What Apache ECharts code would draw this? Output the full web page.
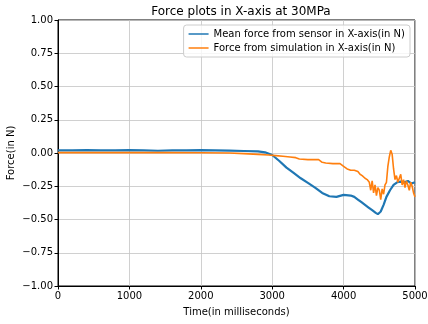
<!DOCTYPE html>
<html>
<head>
<meta charset="utf-8">
<script src="https://cdn.jsdelivr.net/npm/echarts@6/dist/echarts.min.js"></script>
<style>
  html, body { margin: 0; padding: 0; background: #fff; }
  #chart { width: 428px; height: 324px; }
</style>
</head>
<body>
<div id="chart"></div>
<script>
// values
const sensorTime = [0, 200, 400, 600, 800, 1000, 1200, 1400, 1600, 1800, 2000, 2200, 2400, 2600, 2800, 2900,
  3000, 3100, 3200, 3300, 3400, 3500, 3600, 3700, 3800, 3900, 4000, 4100, 4150, 4200, 4250, 4300, 4350,
  4400, 4450, 4480, 4520, 4560, 4600, 4650, 4700, 4750, 4800, 4850, 4900, 4950, 5000]
const sensorForce = [0.02, 0.02, 0.021, 0.02, 0.02, 0.021, 0.02, 0.017, 0.02, 0.02, 0.021, 0.02, 0.018, 0.015, 0.012, 0.005,
  -0.015, -0.06, -0.11, -0.15, -0.19, -0.225, -0.26, -0.3, -0.325, -0.33, -0.315, -0.32, -0.33, -0.35, -0.37, -0.39, -0.41,
  -0.43, -0.45, -0.46, -0.44, -0.39, -0.33, -0.28, -0.24, -0.22, -0.215, -0.22, -0.21, -0.23, -0.22]

const simTime = [0, 500, 1000, 1500, 2000, 2400, 2600, 2800, 2950, 3050, 3150, 3250, 3330, 3380, 3500, 3650, 3700,
  3750, 3850, 3950, 4000, 4050, 4100, 4150, 4200, 4230, 4260, 4300, 4330, 4360, 4380, 4400, 4420, 4440, 4460,
  4480, 4500, 4520, 4540, 4560, 4580, 4600, 4620, 4640, 4660, 4680, 4700, 4720, 4740, 4760, 4780, 4800, 4820,
  4840, 4860, 4880, 4900, 4920, 4940, 4960, 4980, 5000]
const simForce = [0.003, 0.003, 0.003, 0.003, 0.002, 0.0, -0.005, -0.01, -0.015, -0.02, -0.025, -0.03, -0.035, -0.045, -0.05, -0.05, -0.07,
  -0.075, -0.08, -0.08, -0.1, -0.12, -0.13, -0.13, -0.14, -0.16, -0.17, -0.19, -0.2, -0.22, -0.28, -0.21, -0.3, -0.24, -0.32,
  -0.26, -0.28, -0.35, -0.27, -0.31, -0.24, -0.22, -0.1, -0.03, 0.02, -0.01, -0.12, -0.2, -0.17, -0.22, -0.19, -0.16, -0.24,
  -0.2, -0.26, -0.21, -0.24, -0.28, -0.22, -0.25, -0.3, -0.33]

const seriesNames = ['Mean force from sensor in X-axis(in N)', 'Force from simulation in X-axis(in N)']

const zip = (xs, ys) => xs.map((x, i) => [x, ys[i]])
const font = 'DejaVu Sans'

const chart = echarts.init(document.getElementById('chart'), null, { renderer: 'canvas' })

chart.setOption({
  animation: false,
  backgroundColor: '#fff',
  color: ['#1f77b4', '#ff7f0e'],
  title: {
    text: 'Force plots in X-axis at 30MPa',
    left: 236,
    textAlign: 'center',
    top: 1,
    textStyle: { fontFamily: font, fontSize: 12, fontWeight: 'normal', color: '#000' },
  },
  grid: {
    left: 58, right: 13, top: 20, bottom: 38,
    outerBoundsMode: 'none',
    containLabel: false,
    show: true, borderColor: '#000', borderWidth: 1,
  },
  legend: {
    orient: 'vertical',
    right: 18,
    top: 25,
    data: seriesNames,
    icon: 'rect',
    itemWidth: 20,
    itemHeight: 1.5,
    itemGap: 4,
    padding: [4, 5, 4, 5],
    backgroundColor: 'rgba(255,255,255,0.8)',
    borderColor: '#ccc',
    borderWidth: 1,
    borderRadius: 3,
    textStyle: { fontFamily: font, fontSize: 10, color: '#000' },
  },
  xAxis: {
    type: 'value',
    min: 0, max: 5000, interval: 1000,
    name: 'Time(in milliseconds)',
    nameLocation: 'middle',
    nameGap: 21,
    nameMoveOverlap: false,
    nameTextStyle: { fontFamily: font, fontSize: 10, color: '#000' },
    axisLine: { show: true, onZero: false, lineStyle: { color: '#000' } },
    axisTick: { show: true, length: 3.5, lineStyle: { color: '#000' } },
    axisLabel: { fontFamily: font, fontSize: 10, color: '#000', margin: 5, formatter: (v) => String(v) },
    splitLine: { show: true, lineStyle: { color: '#c4c4c4', width: 0.8 } },
  },
  yAxis: {
    type: 'value',
    min: -1, max: 1, interval: 0.25,
    name: 'Force(in N)',
    nameLocation: 'middle',
    nameGap: 42,
    nameMoveOverlap: false,
    nameTextStyle: { fontFamily: font, fontSize: 10, color: '#000' },
    axisLine: { show: true, onZero: false, lineStyle: { color: '#000' } },
    axisTick: { show: true, length: 3.5, lineStyle: { color: '#000' } },
    axisLabel: {
      fontFamily: font, fontSize: 10, color: '#000', margin: 5,
      formatter: (v) => v.toFixed(2).replace('-', '\u2212'),
    },
    splitLine: { show: true, lineStyle: { color: '#c4c4c4', width: 0.8 } },
  },
  series: [
    {
      name: seriesNames[0],
      type: 'line',
      data: zip(sensorTime, sensorForce),
      showSymbol: false,
      symbol: 'none',
      lineStyle: { width: 2.2 },
    },
    {
      name: seriesNames[1],
      type: 'line',
      data: zip(simTime, simForce),
      showSymbol: false,
      symbol: 'none',
      lineStyle: { width: 1.6 },
    },
  ],
})
</script>
</body>
</html>
